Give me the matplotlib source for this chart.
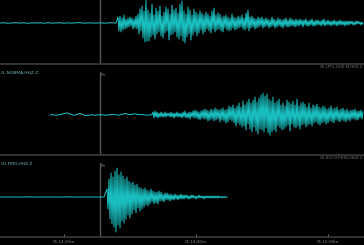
import numpy as np
import matplotlib
matplotlib.use("Agg")
import matplotlib.pyplot as plt

# ---------------- data ----------------
px_per_s = 6.6                      # time scale (pixels per second in the reference)
t_max = 364 / px_per_s
tick_times = [9.70, 29.70, 49.70]
tick_labels = ["01:14:20m", "01:14:40m", "01:15:00m"]
pick_time = 15.15                   # Pn marker

left_labels = ["", "CL.NOBMA.HHZ.Z", "CD.FMO.HHZ.Z"]
right_labels = ["", "GE.LPFL.HHZ.M.HHZ.Z", "GE.SUCO.PHRO.HHZ.Z"]

# trace 1 (top)
tr1_pre_start, tr1_pre_dt = 0.0, 4 / px_per_s
tr1_pre = [0, 0.2, -0.2, 0.1, 0.3, -0.1, 0.2, -0.3, 0.1, 0, 0.2, -0.2, 0.3, -0.1, 0.1,
           0.2, -0.2, 0.1, -0.1, 0.2, 0.3, -0.2, 0.1, 0, -0.1, 0.2, -0.2, 0.1, 0.2, 0]
tr1_burst_start, tr1_burst_dt = 118 / px_per_s, 1 / px_per_s
tr1_burst = [
    6, -8, 7, -9, 5, -7, 8, -6, 4, -5,
    5, -4, 6, -3, 5, -6, 4, -5, 7, -6,
    9, -11, 14, -8, 17, -15, 12, -19, 23, -18,
    13, -18, 10, -14, 19, -12, 8, -16, 15, -11,
    12, -9, 17, -13, 7, -15, 11, -10, 16, -8,
    14, -17, 9, -12, 18, -11, 13, -9, 15, -14,
    10, -16, 19, -13, 22, -18, 12, -20, 9, -14,
    16, -11, 13, -17, 8, -12, 14, -9, 11, -13,
    9, -10, 12, -7, 10, -11, 8, -9, 11, -6,
    9, -8, 7, -10, 12, -6, 15, -9, 8, -7,
    10, -6, 9, -8, 6, -9, 7, -5, 8, -7,
    6, -8, 5, -7, 9, -5, 6, -7, 5, -6,
    7, -5, 6, -4, 8, -6, 5, -7, 10, -5,
    13, -8, 6, -5, 7, -4, 5, -6, 4, -5,
    6, -4, 5, -3, 6, -5, 4, -4, 5, -3,
    4, -5, 3, -4, 6, -3, 4, -5, 3, -4,
    5, -3, 4, -4, 3, -5, 4, -3, 5, -4,
    3, -4, 5, -3, 4, -3, 3, -4, 4, -3,
    3, -3, 4, -2, 3, -4, 3, -2, 4, -3,
    2, -3, 3, -2, 4, -3, 2, -3, 3, -2,
    3, -2, 2, -3, 3, -2, 4, -3, 2, -2,
    3, -2, 2, -3, 2, -2, 3, -2, 2, -3,
    2, -2, 3, -2, 2, -2, 2, -3, 2, -2,
    2, -2, 2, -1, 2, -2, 1, -2, 2, -1,
    2, -1, 1, -2, 1, -1]

# trace 2 (middle)
tr2_pre_start, tr2_pre_dt = 50 / px_per_s, 3 / px_per_s
tr2_pre = [0, 0.3, -0.3, 0.2, 0.8, 1.8, 2, 0.5, -0.3, 0.6, 1.5, 0.3, -0.5, -0.2, 0.2,
           -0.3, 0, 0.3, 0.1, -0.2, 0.3, 0.5, 0.2, -0.2, 0.6, 1.5, 0.8, 0.3, 1.2, 0.9,
           0.2, 0.4, -0.2, 0, 0.3]
tr2_burst_start, tr2_burst_dt = 153 / px_per_s, 1 / px_per_s
tr2_burst = [
    3, -3, 4, -2, 3, -3, 2, -2, 3, -2,
    2, -2, 3, -2, 2, -1, 2, -2, 3, -2,
    2, -3, 2, -2, 3, -2, 2, -2, 2, -3,
    3, -2, 4, -3, 2, -3, 3, -4, 3, -2,
    4, -3, 5, -3, 4, -4, 3, -5, 4, -3,
    5, -4, 6, -4, 5, -6, 4, -5, 6, -4,
    5, -6, 7, -5, 6, -4, 5, -7, 6, -5,
    7, -6, 5, -8, 6, -7, 9, -5, 8, -6,
    10, -8, 7, -11, 9, -8, 12, -10, 8, -12,
    14, -11, 10, -15, 13, -9, 16, -14, 12, -17,
    15, -12, 18, -16, 13, -19, 17, -14, 20, -15,
    22, -17, 19, -13, 21, -18, 16, -20, 14, -17,
    18, -15, 12, -17, 14, -11, 16, -13, 10, -15,
    12, -14, 9, -12, 15, -10, 13, -16, 11, -9,
    14, -12, 10, -13, 16, -11, 9, -14, 12, -10,
    13, -9, 11, -12, 8, -10, 12, -9, 7, -11,
    10, -8, 9, -7, 11, -9, 8, -10, 7, -8,
    9, -7, 8, -9, 6, -8, 7, -6, 9, -7,
    6, -8, 7, -5, 8, -6, 5, -7, 6, -5,
    7, -6, 5, -7, 6, -5, 4, -6, 5, -4,
    5, -4, 6, -5, 4, -5, 4, -3, 5, -4,
    3]

# trace 3 (bottom)
tr3_pre_start, tr3_pre_dt = 0.0, 4 / px_per_s
tr3_pre = [0, 0.1, -0.1, 0.1, 0, -0.1, 0.1, 0, 0.1, -0.1, 0, 0.1, -0.1, 0.1,
           0, -0.1, 0.1, 0, 0.1, -0.1, 0, 0.1, -0.1, 0.1, 0, -0.1, 0.1]
tr3_burst_start, tr3_burst_dt = 107 / px_per_s, 1 / px_per_s
tr3_burst = [
    8, -12, 18, -22, 24, -27, 20, -30, 26, -35,
    29, -28, 22, -31, 25, -24, 21, -26, 18, -22,
    20, -18, 16, -21, 14, -17, 15, -13, 12, -16,
    13, -11, 10, -14, 9, -12, 8, -10, 9, -8,
    7, -9, 6, -7, 8, -5, 6, -7, 5, -6,
    5, -7, 6, -4, 5, -4, 3, -5, 4, -3,
    4, -3, 3, -4, 3, -3, 2, -3, 3, -2,
    2, -3, 2, -2, 3, -2, 2, -2, 2, -1,
    2, -2, 1, -2, 2, -1, 2, -1, 1, -2,
    1, -1, 2, -1, 1, -1, 1, -2, 1, -1,
    1, -1, 1, -1, 1, -1, 1, -1, 1, -1,
    1, -1, 1, -0.5, 0.5, -1, 0.5, -0.5, 0.5, -0.5, 0]

# ---------------- figure ----------------
W, H = 364, 245
fig = plt.figure(figsize=(W / 100, H / 100), dpi=100, facecolor="black")

# panel extents in pixels from the top: (top, bottom, baseline)
panels = [(0, 64, 23), (64, 155, 115), (155, 237, 197)]
traces = [
    (tr1_pre_start, tr1_pre_dt, tr1_pre, tr1_burst_start, tr1_burst_dt, tr1_burst),
    (tr2_pre_start, tr2_pre_dt, tr2_pre, tr2_burst_start, tr2_burst_dt, tr2_burst),
    (tr3_pre_start, tr3_pre_dt, tr3_pre, tr3_burst_start, tr3_burst_dt, tr3_burst),
]

trace_color = "#1fe3e3"
sep_color = "#3c3c3c"
text_color = "#6fb9b9"

for i, ((top, bot, base), tr) in enumerate(zip(panels, traces)):
    ax = fig.add_axes([0, 1 - bot / H, 1, (bot - top) / H])
    ax.set_facecolor("black")
    ax.set_xlim(0, t_max)
    ax.set_ylim(-(bot - base), base - top)
    ps, pdt, pre, bs, bdt, burst = tr
    t_pre = ps + np.arange(len(pre)) * pdt
    t_b = bs + np.arange(len(burst)) * bdt
    t_all = np.concatenate([t_pre, t_b])
    v_all = np.concatenate([np.asarray(pre, float), np.asarray(burst, float)])
    ax.plot(t_all, v_all, color=trace_color, lw=0.6, solid_joinstyle="round")
    ax.axvline(pick_time, color="#555555", lw=1.0, zorder=0,
               ymax=1.0 if i == 0 else 1 - 8 / (bot - top))
    for s in ["left", "right"]:
        ax.spines[s].set_visible(False)
    ax.spines["top"].set_visible(i > 0)
    ax.spines["top"].set_color(sep_color)
    ax.spines["top"].set_linewidth(1.2)
    ax.spines["bottom"].set_visible(i == 2)
    ax.spines["bottom"].set_color(sep_color)
    ax.spines["bottom"].set_linewidth(1.2)
    ax.set_yticks([])
    if i == 2:
        ax.set_xticks(tick_times)
        ax.set_xticklabels(tick_labels, fontsize=3, color="#888888")
        ax.tick_params(axis="x", direction="in", length=2, width=0.6,
                       colors="#888888", pad=2.5)
    else:
        ax.set_xticks([])
    if left_labels[i]:
        ax.text(0.003, 1 - 9 / (bot - top), left_labels[i], transform=ax.transAxes,
                fontsize=3.2, color=text_color, va="center", ha="left")
        ax.text(pick_time + 0.15, (base - top) - 11, "Pn", fontsize=3,
                color="#888888", va="center", ha="left")
    if right_labels[i]:
        ax.text(0.997, 1 - 2.5 / (bot - top), right_labels[i], transform=ax.transAxes,
                fontsize=2.8, color="#777777", va="center", ha="right")

fig.savefig("out.png", dpi=100, facecolor="black")
